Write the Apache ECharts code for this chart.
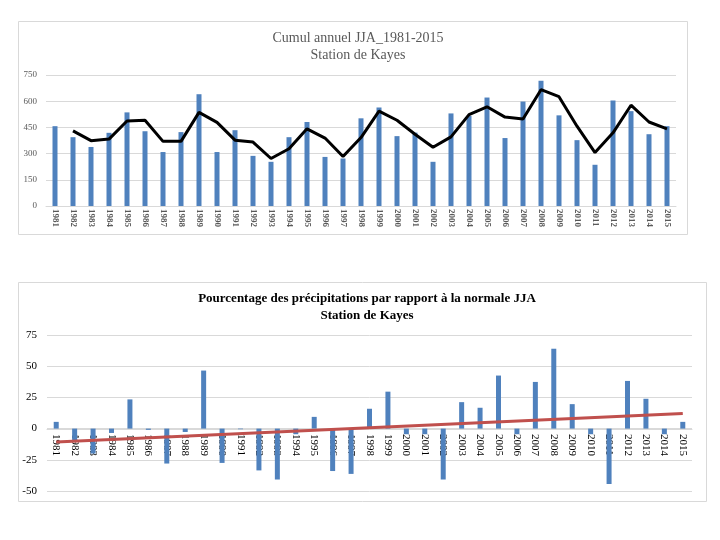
<!DOCTYPE html>
<html>
<head>
<meta charset="utf-8">
<script src="https://cdn.jsdelivr.net/npm/echarts@6/dist/echarts.min.js"></script>
<style>html,body{margin:0;padding:0;background:#fff}#c{width:720px;height:540px}</style>
</head>
<body>
<div id="c"></div>
<script>
var years = ['1981','1982','1983','1984','1985','1986','1987','1988','1989','1990','1991','1992','1993','1994','1995','1996','1997','1998','1999','2000','2001','2002','2003','2004','2005','2006','2007','2008','2009','2010','2011','2012','2013','2014','2015'];
var cumul = [457,394,338,419,536,428,309,423,640,309,434,287,253,394,481,281,272,502,564,400,420,253,530,516,621,389,598,717,519,377,236,604,543,411,457];
var moyMobile = [null,430,374,383,487,491,370,370,536,479,377,366,272,328,442,389,283,392,543,491,411,336,396,523,568,509,498,666,626,457,306,419,577,481,442];
var pourcentage = [5.4,-9.4,-20,-3.5,23.4,-1,-28,-2.7,46.5,-27.5,-0.5,-33.5,-40.8,-4.5,9.4,-34,-36.3,15.9,29.6,-4.5,-4.5,-40.8,21.2,16.7,42.5,-4.5,37.4,64,19.6,-4.5,-44.4,38.2,23.9,-4.5,5.4];
var tendance = [-10.7,null,null,null,null,null,null,null,null,null,null,null,null,null,null,null,null,null,null,null,null,null,null,null,null,null,null,null,null,null,null,null,null,null,12.1];
var ticksTop = [0,150,300,450,600,750];
var ticksBottom = [-50,-25,0,25,50,75];

var chart = echarts.init(document.getElementById('c'), null, {renderer:'canvas'});
var serif = '"Liberation Serif","DejaVu Serif",serif';
chart.setOption({
  animation:false,
  backgroundColor:'#fff',
  graphic:[
    {type:'rect', shape:{x:18.5,y:21.5,width:669,height:213}, style:{fill:'none',stroke:'#d9d9d9',lineWidth:1}, z:-1},
    {type:'rect', shape:{x:18.5,y:282.5,width:688,height:219}, style:{fill:'none',stroke:'#d9d9d9',lineWidth:1}, z:-1}
  ],
  title:[
    {text:'Cumul annuel JJA_1981-2015\nStation de Kayes', left:353, top:25, textAlign:'center',
     textStyle:{fontFamily:serif,fontSize:14,fontWeight:'normal',color:'#595959',lineHeight:17}},
    {text:'Pourcentage des précipitations par rapport à la normale JJA\nStation de Kayes', left:362, top:285, textAlign:'center',
     textStyle:{fontFamily:serif,fontSize:13,fontWeight:'bold',color:'#000',lineHeight:17}}
  ],
  grid:[
    {left:46, right:44, top:75, bottom:334},
    {left:47, right:28, top:335, bottom:49}
  ],
  xAxis:[
    {type:'category', gridIndex:0, data:years,
     axisLine:{lineStyle:{color:'#d9d9d9'}}, axisTick:{show:false},
     axisLabel:{rotate:-90, interval:0, margin:3, fontFamily:serif, fontSize:9, fontWeight:'bold', color:'#595959'}},
    {type:'category', gridIndex:1, data:years, position:'bottom', offset:-62,
     axisLine:{onZero:false, lineStyle:{color:'#d9d9d9'}}, axisTick:{show:false},
     axisLabel:{rotate:-90, interval:0, margin:5, fontFamily:serif, fontSize:11, color:'#000'}}
  ],
  yAxis:[
    {type:'value', gridIndex:0, min:ticksTop[0], max:ticksTop[ticksTop.length-1], interval:150,
     axisLine:{show:false}, axisTick:{show:false},
     splitLine:{lineStyle:{color:'#d9d9d9'}},
     axisLabel:{margin:9, fontFamily:serif, fontSize:9, color:'#595959'}},
    {type:'value', gridIndex:1, min:ticksBottom[0], max:ticksBottom[ticksBottom.length-1], interval:25,
     axisLine:{show:false}, axisTick:{show:false},
     splitLine:{lineStyle:{color:'#d9d9d9'}},
     axisLabel:{margin:10, fontFamily:serif, fontSize:11, color:'#000'}}
  ],
  series:[
    {type:'bar', xAxisIndex:0, yAxisIndex:0, data:cumul, barWidth:5, itemStyle:{color:'#4F81BD'}},
    {type:'line', xAxisIndex:0, yAxisIndex:0, data:moyMobile, showSymbol:false, lineStyle:{color:'#000',width:3}, z:3},
    {type:'bar', xAxisIndex:1, yAxisIndex:1, data:pourcentage, barWidth:5, itemStyle:{color:'#4F81BD'}},
    {type:'line', xAxisIndex:1, yAxisIndex:1, data:tendance, connectNulls:true, showSymbol:false, lineStyle:{color:'#C0504D',width:3}, z:3}
  ]
});
</script>
</body>
</html>
